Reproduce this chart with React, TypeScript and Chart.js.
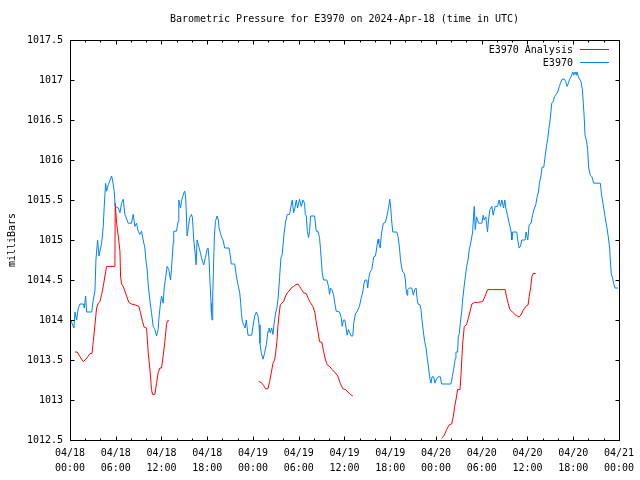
import { useEffect, useRef } from "react";
import { Chart, registerables } from "chart.js";

Chart.register(...registerables);

// ---- Data (hours since 2024-04-18 00:00 UTC) ----
const obsHours = [
  0.09, 0.52, 0.65, 0.87, 1.09, 1.31, 1.74, 1.88, 2.05, 2.18, 2.84, 3.05, 3.27, 3.4, 3.62, 3.8, 4.15, 4.36, 4.49, 4.67,
  4.8, 5.02, 5.45, 5.58, 5.8, 5.93, 6.33, 6.55, 6.76, 6.98, 7.2, 7.64, 8.07, 8.29, 8.51, 8.73, 8.94, 9.16, 9.38, 9.6,
  9.82, 9.95, 10.12, 10.26, 10.47, 10.69, 10.91, 11.13, 11.35, 11.56, 11.69, 11.87, 12.0, 12.22, 12.35, 12.57, 12.74,
  12.96, 13.18, 13.31, 13.53, 13.61, 13.96, 14.18, 14.27, 14.49, 14.66, 14.93, 15.06, 15.19, 15.36, 15.54,
  15.71, 15.93, 16.06, 16.23, 16.45, 16.54, 16.67, 16.89, 17.11, 17.32, 17.54, 17.76, 17.98, 18.11, 18.24, 18.37, 18.5,
  18.55, 18.63, 18.72, 18.85, 18.94, 19.07, 19.29, 19.46, 19.55, 19.72, 19.9, 20.07, 20.29, 20.86, 21.03, 21.16, 21.6,
  21.82, 22.04, 22.26, 22.39, 22.48, 22.61, 22.78, 22.96, 23.13, 23.22, 23.35, 23.83, 24.0, 24.22, 24.44, 24.66, 24.79,
  24.92, 25.09, 25.31, 25.53, 25.75, 25.97, 26.1, 26.27, 26.45, 26.62, 26.75, 26.97, 27.14, 27.32, 27.49, 27.67, 27.84,
  28.06, 28.28, 28.5, 28.8, 28.98, 29.15, 29.33, 29.5, 29.68, 29.85, 30.11, 30.33, 30.55, 30.77, 30.86, 30.99, 31.12,
  31.29, 31.42, 31.55, 32.08, 32.29, 32.51, 32.73, 32.86, 32.99, 33.08, 33.25, 33.69, 33.91, 34.04, 34.17, 34.34, 34.56,
  34.74, 34.91, 35.35, 35.57, 35.7, 35.87, 36.05, 36.22, 36.35, 36.53,
  36.87, 37.09, 37.22, 37.44, 37.62, 37.96, 38.18, 38.4, 38.57, 38.7, 38.92, 39.05, 39.18, 39.36, 39.58, 39.71, 39.84,
  40.06, 40.15, 40.28, 40.41, 40.5, 40.68, 40.81, 40.94, 41.11, 41.37, 41.59, 41.81, 41.94, 42.07, 42.16, 42.33, 42.86,
  43.03, 43.2, 43.33, 43.51, 43.64, 43.86, 43.99, 44.08, 44.21, 44.3, 44.51, 44.82, 45.04, 45.21, 45.39, 45.52, 45.65,
  45.91, 46.04, 46.17, 46.35, 46.52, 46.7, 46.83, 46.96, 47.09, 47.22, 47.35, 47.48, 47.7, 47.87, 48.01, 48.3, 48.57,
  48.74, 49.96, 50.14, 50.31, 50.53, 50.62, 50.84, 50.93, 51.06, 51.19, 51.37, 51.5, 51.67, 51.85, 52.02, 52.2, 52.37,
  52.59, 52.81,
  52.93, 53.02, 53.15, 53.32, 53.58, 54.02, 54.19, 54.32, 54.54, 54.76, 54.89, 55.07, 55.33, 55.5, 55.77, 56.07, 56.29,
  56.46, 56.64, 56.86, 57.03, 57.16, 57.38, 57.6, 57.86, 57.95, 58.08, 58.6, 58.73, 58.9, 59.08, 59.25, 59.69, 59.82,
  60.04, 60.22, 60.48, 60.66, 60.92, 61.09, 61.27, 61.44, 61.57, 61.79, 61.92, 62.14, 62.31, 62.49, 62.66, 62.79, 62.97,
  63.19, 63.36, 63.54, 63.75, 63.97, 64.19, 64.32, 64.54, 64.84, 65.02, 65.19, 65.37, 65.54, 65.72, 65.94, 66.07, 66.24,
  66.42, 66.5, 66.68, 66.85, 67.03, 67.2, 67.33, 67.46, 67.55, 67.72, 67.9, 68.03, 68.25, 68.46, 68.68, 69.55, 69.73,
  69.9, 70.08, 70.25, 70.43, 70.6, 70.78, 70.86, 70.99, 71.17, 71.3, 71.47, 71.9,
];
const obsValues = [
  1014.0, 1013.9, 1014.1, 1014.0, 1014.15, 1014.2, 1014.2, 1014.15, 1014.3, 1014.1, 1014.1, 1014.25, 1014.36, 1014.75,
  1015.0, 1014.8, 1014.96, 1015.17, 1015.42, 1015.71, 1015.61, 1015.69, 1015.8, 1015.75, 1015.61, 1015.42, 1015.4,
  1015.34, 1015.46, 1015.51, 1015.32, 1015.21, 1015.21, 1015.32, 1015.17, 1015.21, 1015.11, 1015.07, 1015.11, 1015.0,
  1014.9, 1014.75, 1014.63, 1014.44, 1014.25, 1014.09, 1013.92, 1013.88, 1013.8, 1013.88, 1014.05, 1014.21, 1014.3,
  1014.21, 1014.4, 1014.55, 1014.67, 1014.63, 1014.5, 1014.63, 1014.96, 1015.11, 1015.11, 1015.23, 1015.5, 1015.4,
  1015.5, 1015.59, 1015.61, 1015.5, 1015.05, 1015.17,
  1015.28, 1015.32, 1015.28, 1015.0, 1014.8, 1014.69, 1015.0, 1014.92, 1014.84, 1014.75, 1014.69, 1014.78, 1014.88,
  1014.9, 1014.75, 1014.46, 1014.21, 1014.09, 1014.0, 1014.3, 1014.75, 1015.05, 1015.23, 1015.3, 1015.25, 1015.15,
  1015.09, 1015.03, 1015.0, 1014.9, 1014.9, 1014.8, 1014.7, 1014.7, 1014.55, 1014.44, 1014.34, 1014.21, 1014.09,
  1013.98, 1013.94, 1013.9, 1014.0, 1013.92, 1013.81, 1013.81, 1013.92, 1014.05, 1014.1, 1014.05, 1013.94, 1013.71,
  1013.59, 1013.51, 1013.59, 1013.69, 1013.86, 1013.9, 1013.84, 1013.9, 1013.82, 1013.94, 1014.09, 1014.15, 1014.3,
  1014.53, 1014.78, 1014.82, 1015.07, 1015.23, 1015.32, 1015.32, 1015.42, 1015.5, 1015.34, 1015.4, 1015.5, 1015.4,
  1015.51, 1015.42, 1015.5, 1015.46, 1015.32, 1015.3, 1015.11, 1015.03, 1015.11, 1015.3, 1015.3, 1015.11, 1015.11,
  1015.03, 1014.88, 1014.71, 1014.59, 1014.5, 1014.5, 1014.42, 1014.32, 1014.4, 1014.38, 1014.32, 1014.21, 1014.11,
  1014.1, 1014.03, 1013.92, 1014.0, 1014.0, 1013.9, 1013.81, 1013.88,
  1013.8, 1013.8, 1013.96, 1014.08, 1014.1, 1014.17, 1014.27, 1014.35, 1014.46, 1014.5, 1014.5, 1014.4, 1014.52,
  1014.6, 1014.63, 1014.71, 1014.79, 1014.8, 1014.85, 1014.94, 1015.01, 1014.96, 1014.9, 1015.04, 1015.13, 1015.21,
  1015.22, 1015.31, 1015.42, 1015.51, 1015.4, 1015.27, 1015.1, 1015.1, 1015.04, 1014.92, 1014.77, 1014.65, 1014.6,
  1014.58, 1014.5, 1014.38, 1014.31, 1014.38, 1014.4, 1014.4, 1014.31, 1014.38, 1014.4, 1014.27, 1014.2, 1014.19,
  1014.13, 1014.0, 1013.85, 1013.73, 1013.65, 1013.54, 1013.46, 1013.35, 1013.26, 1013.21, 1013.29, 1013.29, 1013.21,
  1013.25, 1013.29, 1013.29, 1013.2, 1013.2, 1013.29, 1013.38, 1013.52, 1013.6, 1013.6, 1013.79, 1013.83, 1013.96,
  1014.1, 1014.25, 1014.4, 1014.54, 1014.67, 1014.75, 1014.88, 1014.98, 1015.1,
  1015.31, 1015.42, 1015.13, 1015.29, 1015.21, 1015.21, 1015.31, 1015.25, 1015.29, 1015.1, 1015.25, 1015.38, 1015.42,
  1015.31, 1015.42, 1015.42, 1015.5, 1015.42, 1015.5, 1015.4, 1015.5, 1015.4, 1015.31, 1015.21, 1015.1, 1015.0,
  1015.1, 1015.1, 1015.0, 1014.9, 1014.92, 1015.0, 1015.0, 1015.1, 1015.0, 1015.19, 1015.21, 1015.31, 1015.4, 1015.44,
  1015.54, 1015.6, 1015.71, 1015.81, 1015.91, 1015.91, 1016.04, 1016.17, 1016.27, 1016.38, 1016.5, 1016.71, 1016.73,
  1016.79, 1016.82, 1016.85, 1016.92, 1016.96, 1017.01, 1017.01, 1016.98, 1016.92, 1016.96, 1017.01, 1017.04, 1017.1,
  1017.06, 1017.1, 1017.06, 1017.1, 1017.04, 1017.01, 1016.98, 1016.88, 1016.71, 1016.5, 1016.31, 1016.25, 1016.13,
  1015.9, 1015.81, 1015.79, 1015.71, 1015.71, 1015.56, 1015.46, 1015.35, 1015.25, 1015.15, 1015.04, 1014.9, 1014.75,
  1014.58, 1014.52, 1014.46, 1014.4, 1014.4,
];

const anaHours = [
  0.65, 0.96, 1.31, 1.74, 2.09, 2.4, 2.62, 2.88, 3.05, 3.27, 3.49, 3.71, 3.93, 4.15, 4.36, 4.58, 4.8, 5.89, 5.93, 6.11,
  6.33, 6.55, 6.63, 6.76, 6.98, 7.42, 7.72, 8.07, 8.51, 9.03, 9.25, 9.51, 9.73, 10.04, 10.26, 10.47, 10.69, 10.82,
  11.13, 11.35, 11.56, 11.78, 12.0, 12.22, 12.44, 12.65, 12.78, 13.0,
  18.0,
  24.74, 25.09, 25.4, 25.66, 25.97, 26.18, 26.4, 26.62, 26.84, 26.97, 27.14, 27.27, 27.4, 27.58, 27.76, 28.02, 28.28,
  28.5, 28.72, 29.02, 29.33, 29.59, 29.89, 30.11, 30.37, 30.64, 30.99, 31.2, 31.51, 31.86, 32.12, 32.29, 32.51, 32.73,
  33.04, 33.25, 33.52, 33.73, 34.04, 34.39, 34.78, 35.13, 35.44, 35.79, 36.14, 36.44, 36.75, 37.1,
  42.0,
  48.74, 49.09, 49.4, 49.74, 50.05, 50.27, 50.45, 50.62, 50.84, 51.15, 51.28, 51.49, 51.71, 52.01, 52.23, 52.45, 52.71,
  53.02, 53.45, 54.11, 54.41, 54.76, 55.42, 56.29, 57.08, 57.25, 57.47, 57.69, 58.04, 58.47, 58.91, 59.13, 59.43,
  59.78, 60.09, 60.22, 60.44, 60.57, 60.74, 61.09,
];
const anaValues: (number | null)[] = [
  1013.6, 1013.6, 1013.54, 1013.48, 1013.51, 1013.55, 1013.58, 1013.58, 1013.73, 1013.94, 1014.15, 1014.21, 1014.23,
  1014.32, 1014.42, 1014.55, 1014.67, 1014.67, 1015.46, 1015.21, 1015.05, 1014.86, 1014.55, 1014.45, 1014.42, 1014.3,
  1014.22, 1014.2, 1014.19, 1014.17, 1014.09, 1013.98, 1013.91, 1013.9, 1013.59, 1013.4, 1013.13, 1013.07, 1013.07,
  1013.21, 1013.34, 1013.4, 1013.4, 1013.55, 1013.73, 1013.94, 1013.99, 1013.99,
  null,
  1013.23, 1013.22, 1013.18, 1013.14, 1013.14, 1013.23, 1013.34, 1013.46, 1013.5, 1013.59, 1013.73, 1013.92, 1014.05,
  1014.19, 1014.21, 1014.23, 1014.3, 1014.34, 1014.36, 1014.4, 1014.42, 1014.44, 1014.45, 1014.42, 1014.38, 1014.34,
  1014.33, 1014.28, 1014.22, 1014.17, 1014.09, 1013.98, 1013.86, 1013.73, 1013.72, 1013.61, 1013.5, 1013.44, 1013.42,
  1013.38, 1013.34, 1013.3, 1013.21, 1013.14, 1013.13, 1013.1, 1013.07, 1013.05,
  null,
  1012.52, 1012.56, 1012.63, 1012.69, 1012.7, 1012.79, 1012.92, 1013.0, 1013.13, 1013.13, 1013.31, 1013.69, 1013.92,
  1013.94, 1014.02, 1014.1, 1014.2, 1014.22, 1014.22, 1014.23, 1014.29, 1014.38, 1014.38, 1014.38, 1014.38, 1014.29,
  1014.21, 1014.13, 1014.1, 1014.06, 1014.04, 1014.06, 1014.12, 1014.17, 1014.19, 1014.29, 1014.42, 1014.54, 1014.58,
  1014.58,
];

const seriesNames = ["E3970 Analysis", "E3970"];
const seriesColors = ["#ff0000", "#0080ff"];
const dayLabels = ["04/18", "04/19", "04/20", "04/21"];
const titleText = "Barometric Pressure for E3970 on 2024-Apr-18 (time in UTC)";
const yAxisTitle = "milliBars";
const xMin = 0;
const xMax = 72;
const xMajorStep = 6;
const xMinorStep = 2;
const yMin = 1012.5;
const yMax = 1017.5;
const yStep = 0.5;

const FONT = "'DejaVu Sans Mono', 'Liberation Mono', monospace";

const framePlugin = {
  id: "gnuFrame",
  afterDraw(chart: any) {
    const { ctx, chartArea: a, scales } = chart;
    const xs = scales.x;
    const ys = scales.y;
    ctx.save();
    ctx.strokeStyle = "#000";
    ctx.lineWidth = 1;
    const L = Math.round(a.left) + 0.5;
    const R = Math.round(a.right) + 0.5;
    const T = Math.round(a.top) + 0.5;
    const B = Math.round(a.bottom) + 0.5;
    ctx.beginPath();
    ctx.rect(L, T, R - L, B - T);
    for (let h = xMin; h <= xMax + 1e-9; h += xMinorStep) {
      const px = Math.round(xs.getPixelForValue(h)) + 0.5;
      const len = Math.abs(h % xMajorStep) < 1e-9 ? 4 : 2;
      ctx.moveTo(px, B);
      ctx.lineTo(px, B - len);
      ctx.moveTo(px, T);
      ctx.lineTo(px, T + len);
    }
    for (let v = yMin; v <= yMax + 1e-9; v += yStep) {
      const py = Math.round(ys.getPixelForValue(v)) + 0.5;
      ctx.moveTo(L, py);
      ctx.lineTo(L + 4, py);
      ctx.moveTo(R, py);
      ctx.lineTo(R - 4, py);
    }
    ctx.stroke();

    // legend (text then sample line, gnuplot style)
    ctx.font = `10px ${FONT}`;
    ctx.textAlign = "right";
    ctx.textBaseline = "middle";
    chart.data.datasets.forEach((ds: any, i: number) => {
      const y = Math.round(a.top + 9 + 13 * i) + 0.5;
      ctx.fillStyle = "#000";
      ctx.fillText(ds.label, a.right - 46, y + 1);
      ctx.strokeStyle = ds.borderColor;
      ctx.beginPath();
      ctx.moveTo(a.right - 39, y);
      ctx.lineTo(a.right - 10, y);
      ctx.stroke();
    });
    ctx.restore();
  },
};

export default function App() {
  const ref = useRef<HTMLCanvasElement>(null);
  useEffect(() => {
    document.body.style.margin = "0";
    const canvas = ref.current;
    if (!canvas) return;
    const chart = new Chart(canvas, {
      type: "line",
      data: {
        datasets: [
          {
            label: seriesNames[0],
            data: anaHours.map((h, i) => ({ x: h, y: anaValues[i] })) as any,
            borderColor: seriesColors[0],
            backgroundColor: seriesColors[0],
            borderWidth: 1,
            pointRadius: 0,
            tension: 0,
            spanGaps: false,
            fill: false,
            order: 1,
          },
          {
            label: seriesNames[1],
            data: obsHours.map((h, i) => ({ x: h, y: obsValues[i] })),
            borderColor: seriesColors[1],
            backgroundColor: seriesColors[1],
            borderWidth: 1,
            pointRadius: 0,
            tension: 0,
            fill: false,
            order: 0,
          },
        ],
      },
      options: {
        animation: false,
        responsive: false,
        devicePixelRatio: 1,
        events: [],
        layout: { padding: { left: 0, right: 20, top: 0, bottom: 0 } },
        plugins: {
          legend: { display: false },
          tooltip: { enabled: false },
          title: {
            display: true,
            text: titleText,
            fullSize: false,
            color: "#000",
            font: { family: FONT, size: 10, weight: "normal", lineHeight: 1.2 },
            padding: { top: 13, bottom: 15 },
          },
        },
        scales: {
          x: {
            type: "linear",
            min: xMin,
            max: xMax,
            afterFit: (s: any) => {
              s.height = 40;
            },
            grid: { display: false, drawTicks: false },
            border: { display: false },
            ticks: {
              stepSize: xMajorStep,
              autoSkip: false,
              maxRotation: 0,
              padding: 6,
              color: "#000",
              font: { family: FONT, size: 10, lineHeight: 1.5 },
              callback: (v: any) => {
                const h = Number(v);
                const day = dayLabels[Math.floor(h / 24)];
                const hh = String(h % 24).padStart(2, "0");
                return [day, `${hh}:00`];
              },
            },
          },
          y: {
            type: "linear",
            min: yMin,
            max: yMax,
            afterFit: (s: any) => {
              s.width = 70;
            },
            grid: { display: false, drawTicks: false },
            border: { display: false },
            title: {
              display: true,
              text: yAxisTitle,
              color: "#000",
              font: { family: FONT, size: 10, lineHeight: 1.2 },
              padding: { top: 6, bottom: 0 },
            },
            ticks: {
              stepSize: yStep,
              padding: 7,
              color: "#000",
              font: { family: FONT, size: 10 },
              callback: (v: any) => String(v),
            },
          },
        },
      },
      plugins: [framePlugin],
    });
    return () => chart.destroy();
  }, []);
  return (
    <div style={{ width: 640, height: 480 }}>
      <canvas ref={ref} width={640} height={480} style={{ display: "block" }} />
    </div>
  );
}
